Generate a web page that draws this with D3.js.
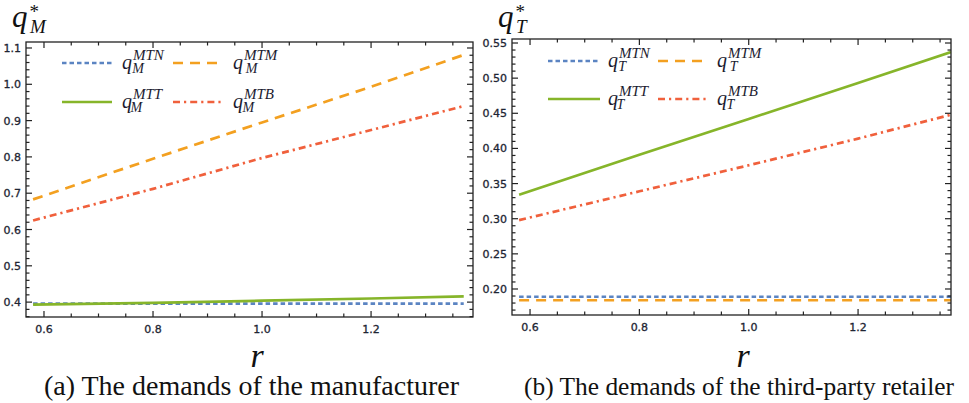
<!DOCTYPE html>
<html>
<head>
<meta charset="utf-8">
<script src="https://cdn.jsdelivr.net/npm/d3@7"></script>
<style>
html,body{margin:0;padding:0;background:#fff;}
svg{display:block;}
</style>
</head>
<body>
<svg id="chart" width="969" height="403"></svg>
<script>
// ---------- data ----------
const rValues = [0.58, 0.8, 1.0, 1.2, 1.37];

// (a) manufacturer demands
const qM_MTN = [0.396, 0.396, 0.396, 0.396, 0.396];
const qM_MTM = [0.683, 0.795, 0.895, 0.993, 1.081];
const qM_MTT = [0.393, 0.398, 0.404, 0.410, 0.416];
const qM_MTB = [0.625, 0.712, 0.797, 0.874, 0.940];

// (b) third-party retailer demands
const qT_MTN = [0.189, 0.189, 0.189, 0.189, 0.189];
const qT_MTM = [0.184, 0.184, 0.184, 0.184, 0.184];
const qT_MTT = [0.334, 0.391, 0.442, 0.493, 0.537];
const qT_MTB = [0.298, 0.339, 0.376, 0.414, 0.448];

const seriesNames = ["MTN", "MTM", "MTT", "MTB"];
const xTicksMajor = [0.6, 0.8, 1.0, 1.2];
const yTicksA = [0.4, 0.5, 0.6, 0.7, 0.8, 0.9, 1.0, 1.1];
const yTicksB = [0.20, 0.25, 0.30, 0.35, 0.40, 0.45, 0.50, 0.55];
const captions = ["(a) The demands of the manufacturer", "(b) The demands of the third-party retailer"];

// ---------- styles ----------
const styles = {
  MTN: {color: "#5b84c2", dash: "4.5,3"},
  MTM: {color: "#f3a020", dash: "10,7"},
  MTT: {color: "#86b52a", dash: null},
  MTB: {color: "#f0603c", dash: "7,4,2.2,4"}
};

const svg = d3.select("#chart");
const serif = "'Liberation Serif','Times New Roman',serif";
const sans = "'DejaVu Sans',Verdana,sans-serif";

// q with superscript and subscript, as one text element
function qLabel(g, x, y, sub, sup) {
  const t = g.append("text").attr("x", x).attr("y", y)
    .attr("font-family", serif).attr("font-style", "italic")
    .attr("fill", "#1b1b30");
  t.append("tspan").attr("font-size", 20).text("q");
  t.append("tspan").attr("font-size", 15).attr("dx", 1).attr("dy", -9).text(sup);
  const supW = sup.length * 10.2;
  t.append("tspan").attr("font-size", 14).attr("dx", -supW - 1).attr("dy", 13).text(sub);
}

function panel(cfg) {
  const g = svg.append("g");
  const x = d3.scaleLinear().domain(cfg.xDomain).range([cfg.left, cfg.right]);
  const y = d3.scaleLinear().domain(cfg.yDomain).range([cfg.bottom, cfg.top]);

  // lines
  const line = d3.line().x((d, i) => x(rValues[i])).y(d => y(d));
  const clipId = "clip" + cfg.id;
  svg.append("defs").append("clipPath").attr("id", clipId)
    .append("rect").attr("x", cfg.left).attr("y", cfg.top)
    .attr("width", cfg.right - cfg.left).attr("height", cfg.bottom - cfg.top);
  cfg.drawOrder.forEach(name => {
    const st = styles[name];
    g.append("path").attr("clip-path", `url(#${clipId})`)
      .attr("d", line(cfg.series[name]))
      .attr("fill", "none").attr("stroke", st.color)
      .attr("stroke-width", 2.7)
      .attr("stroke-dasharray", st.dash);
  });

  // frame
  g.append("rect").attr("x", cfg.left).attr("y", cfg.top)
    .attr("width", cfg.right - cfg.left).attr("height", cfg.bottom - cfg.top)
    .attr("fill", "none").attr("stroke", "#222").attr("stroke-width", 1.3);

  // ticks (inward on all four sides)
  const fmtY = d3.format(cfg.yFormat);
  const xMinor = d3.range(0.55, 1.45, 0.05).map(v => +v.toFixed(2))
    .filter(v => v >= cfg.xDomain[0] && v <= cfg.xDomain[1]);
  const yMinor = d3.range(cfg.yTicks[0] - cfg.yMinorStep * 5, cfg.yTicks[cfg.yTicks.length - 1] + cfg.yMinorStep * 5, cfg.yMinorStep)
    .map(v => +v.toFixed(3)).filter(v => v >= cfg.yDomain[0] && v <= cfg.yDomain[1]);
  const isMajorX = v => xTicksMajor.some(t => Math.abs(t - v) < 1e-6);
  const isMajorY = v => cfg.yTicks.some(t => Math.abs(t - v) < 1e-6);

  xMinor.forEach(v => {
    const L = isMajorX(v) ? 6 : 3.5;
    g.append("line").attr("x1", x(v)).attr("x2", x(v)).attr("y1", cfg.bottom).attr("y2", cfg.bottom - L)
      .attr("stroke", "#222").attr("stroke-width", 1.2);
    g.append("line").attr("x1", x(v)).attr("x2", x(v)).attr("y1", cfg.top).attr("y2", cfg.top + L)
      .attr("stroke", "#222").attr("stroke-width", 1.2);
  });
  yMinor.forEach(v => {
    const L = isMajorY(v) ? 6 : 3.5;
    g.append("line").attr("x1", cfg.left).attr("x2", cfg.left + L).attr("y1", y(v)).attr("y2", y(v))
      .attr("stroke", "#222").attr("stroke-width", 1.2);
    g.append("line").attr("x1", cfg.right).attr("x2", cfg.right - L).attr("y1", y(v)).attr("y2", y(v))
      .attr("stroke", "#222").attr("stroke-width", 1.2);
  });

  // tick labels
  xTicksMajor.forEach(v => {
    g.append("text").attr("x", x(v)).attr("y", cfg.bottom + 16)
      .attr("text-anchor", "middle").attr("font-family", sans).attr("font-size", 11)
      .attr("fill", "#1e2533").attr("stroke", "#1e2533").attr("stroke-width", 0.3)
      .text(d3.format(".1f")(v));
  });
  cfg.yTicks.forEach(v => {
    g.append("text").attr("x", cfg.left - 5).attr("y", y(v) + 4)
      .attr("text-anchor", "end").attr("font-family", sans).attr("font-size", 11)
      .attr("fill", "#1e2533").attr("stroke", "#1e2533").attr("stroke-width", 0.3)
      .text(fmtY(v));
  });

  // y title  q*_X  (single text element)
  const tt = g.append("text").attr("x", cfg.titleX).attr("y", 27)
    .attr("font-family", serif).attr("fill", "#111");
  tt.append("tspan").attr("font-style", "italic").attr("font-size", 31).text("q");
  tt.append("tspan").attr("font-size", 19).attr("dx", 2).attr("dy", -9).text("*");
  tt.append("tspan").attr("font-style", "italic").attr("font-size", 19)
    .attr("dx", -9).attr("dy", 15).text(cfg.sub);

  // x title r
  g.append("text").attr("x", cfg.rX).attr("y", 367).attr("text-anchor", "middle")
    .attr("font-family", serif).attr("font-style", "italic").attr("font-size", 34)
    .attr("fill", "#111").text("r");

  // caption
  g.append("text").attr("x", cfg.capX).attr("y", 395).attr("text-anchor", "middle")
    .attr("font-family", serif).attr("font-size", cfg.capSize).attr("fill", "#111")
    .attr("textLength", cfg.capW).attr("lengthAdjust", "spacingAndGlyphs")
    .text(cfg.caption);

  // legend
  const L = cfg.legend;
  const cells = [
    {name: "MTN", row: 0, col: 0}, {name: "MTM", row: 0, col: 1},
    {name: "MTT", row: 1, col: 0}, {name: "MTB", row: 1, col: 1}
  ];
  cells.forEach(c => {
    const st = styles[c.name];
    const ly = L.rows[c.row];
    const lx = L.cols[c.col];
    g.append("line").attr("x1", lx[0]).attr("x2", lx[1]).attr("y1", ly).attr("y2", ly)
      .attr("stroke", st.color).attr("stroke-width", 2.6)
      .attr("stroke-dasharray", st.dash);
    qLabel(g, lx[2], ly + 6, cfg.sub, c.name);
  });
}

panel({
  id: "a",
  left: 26, right: 473, top: 42, bottom: 317,
  xDomain: [0.567, 1.387], yDomain: [0.359, 1.1165],
  yTicks: yTicksA, yMinorStep: 0.02, yFormat: ".1f",
  series: {MTN: qM_MTN, MTM: qM_MTM, MTT: qM_MTT, MTB: qM_MTB},
  drawOrder: ["MTN", "MTT", "MTM", "MTB"],
  sub: "M", titleX: 12, rX: 257, capX: 251.5, capW: 415, capSize: 26.5, caption: captions[0],
  legend: {rows: [63, 102], cols: [[62, 112, 122], [173, 222, 233]]}
});

panel({
  id: "b",
  left: 512, right: 951, top: 39, bottom: 315,
  xDomain: [0.567, 1.370], yDomain: [0.163, 0.5557],
  yTicks: yTicksB, yMinorStep: 0.01, yFormat: ".2f",
  series: {MTN: qT_MTN, MTM: qT_MTM, MTT: qT_MTT, MTB: qT_MTB},
  drawOrder: ["MTM", "MTN", "MTT", "MTB"],
  sub: "T", titleX: 498, rX: 743, capX: 739, capW: 430, capSize: 24.8, caption: captions[1],
  legend: {rows: [61, 99], cols: [[548, 600, 608], [658, 706, 717]]}
});
</script>
</body>
</html>
